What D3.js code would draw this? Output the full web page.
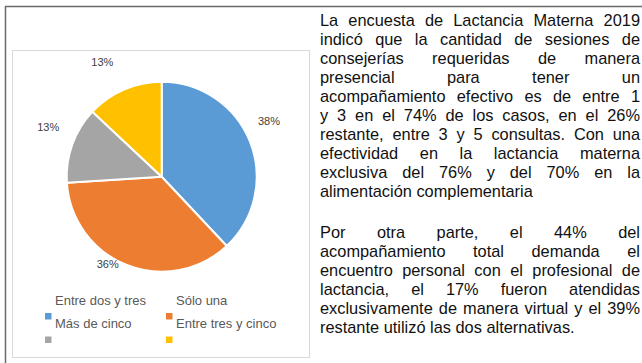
<!DOCTYPE html>
<html>
<head>
<meta charset="utf-8">
<script src="https://cdn.jsdelivr.net/npm/d3@7"></script>
<style>
  html, body { margin: 0; padding: 0; background: #fff; }
  svg { display: block; }
</style>
</head>
<body>
<svg id="chart" width="642" height="363"></svg>
<script>
// Consejerías presenciales requeridas (Encuesta de Lactancia Materna 2019)
const categories = ["Entre dos y tres", "Sólo una", "Más de cinco", "Entre tres y cinco"];
const shares = [38, 36, 13, 13];
const sliceColors = ["#5B9BD5", "#ED7D31", "#A5A5A5", "#FFC000"];

// Texto que acompaña al gráfico, línea por línea
const paragraphOne = [
  "La encuesta de Lactancia Materna 2019",
  "indicó que la cantidad de sesiones de",
  "consejerías requeridas de manera",
  "presencial para tener un",
  "acompañamiento efectivo es de entre 1",
  "y 3 en el 74% de los casos, en el 26%",
  "restante, entre 3 y 5 consultas. Con una",
  "efectividad en la lactancia materna",
  "exclusiva del 76% y del 70% en la",
  "alimentación complementaria"
];
const paragraphTwo = [
  "Por otra parte, el 44% del",
  "acompañamiento total demanda el",
  "encuentro personal con el profesional de",
  "lactancia, el 17% fueron atendidas",
  "exclusivamente de manera virtual y el 39%",
  "restante utilizó las dos alternativas."
];

const FONT = "'Liberation Sans', Arial, sans-serif";
const svg = d3.select("#chart");

// Marcos: recuadro exterior y área del gráfico
svg.append("path")
  .attr("d", "M5.5,363 V6.5 H642")
  .attr("fill", "none")
  .attr("stroke", "#6a6a6a")
  .attr("stroke-width", 1.5);

svg.append("rect")
  .attr("x", 12.5).attr("y", 50.5)
  .attr("width", 297).attr("height", 307)
  .attr("fill", "#fff")
  .attr("stroke", "#d9d9d9")
  .attr("stroke-width", 1);

// Torta
const cx = 161.7, cy = 176.7, radius = 95;
const pie = d3.pie().sort(null).value(d => d);
const arcs = pie(shares);
const arc = d3.arc().innerRadius(0).outerRadius(radius);

const g = svg.append("g").attr("transform", `translate(${cx},${cy})`);
g.selectAll("path.slice")
  .data(arcs)
  .join("path")
  .attr("class", "slice")
  .attr("d", arc)
  .attr("fill", (d, i) => sliceColors[i])
  .attr("stroke", "#fff")
  .attr("stroke-width", 2)
  .attr("stroke-linejoin", "round");

// Etiquetas de porcentaje: giro (grados) y distancia al centro de cada una
const labelPlacement = [
  { turn: -6, dist: 121 },
  { turn: 10, dist: 103 },
  { turn: 4, dist: 124 },
  { turn: -4, dist: 129 }
];
g.selectAll("text.pct")
  .data(arcs)
  .join("text")
  .attr("class", "pct")
  .each(function (d, i) {
    const p = labelPlacement[i];
    const a = (d.startAngle + d.endAngle) / 2 + p.turn * Math.PI / 180;
    d3.select(this)
      .attr("x", p.dist * Math.sin(a))
      .attr("y", -p.dist * Math.cos(a));
  })
  .attr("text-anchor", "middle")
  .attr("dominant-baseline", "central")
  .attr("font-family", FONT)
  .attr("font-size", 11)
  .attr("fill", "#404040")
  .text(d => `${d.data}%`);

// Leyenda (dos columnas)
const legend = svg.append("g").attr("font-family", FONT);
const colX = [45, 166];
categories.forEach((name, i) => {
  const col = i % 2, row = Math.floor(i / 2);
  legend.append("rect")
    .attr("x", colX[col]).attr("y", 313 + row * 23.5)
    .attr("width", 6.5).attr("height", 6.5)
    .attr("fill", sliceColors[i]);
  legend.append("text")
    .attr("x", colX[col] + 10).attr("y", 300 + row * 23.5)
    .attr("dominant-baseline", "central")
    .attr("font-size", 13)
    .attr("fill", "#595959")
    .text(name);
});

// Párrafos justificados a la derecha del gráfico
const textLeft = 320, textRight = 640;
const leading = 19;
const body = svg.append("g")
  .attr("font-family", FONT)
  .attr("fill", "#111");

const probe = body.append("text").attr("font-size", 16).text("alimentación complementaria");
const fontSize = 16 * 213 / probe.node().getComputedTextLength();
probe.remove();
body.attr("font-size", fontSize);

function wordWidth(w) {
  const t = body.append("text").text(w);
  const len = t.node().getComputedTextLength();
  t.remove();
  return len;
}

function drawParagraph(lines, firstBaseline) {
  lines.forEach((line, li) => {
    const y = firstBaseline + li * leading;
    const words = line.split(" ");
    const t = body.append("text").attr("y", y);
    if (li === lines.length - 1 || words.length < 2) {
      t.attr("x", textLeft).text(line);
      return;
    }
    const widths = words.map(wordWidth);
    const gap = (textRight - textLeft - d3.sum(widths)) / (words.length - 1);
    let x = textLeft;
    words.forEach((w, wi) => {
      t.append("tspan").attr("x", x).text(w);
      x += widths[wi] + gap;
    });
  });
}

const firstBaseline = 26, paragraphGap = 22;
drawParagraph(paragraphOne, firstBaseline);
drawParagraph(paragraphTwo,
  firstBaseline + paragraphOne.length * leading + paragraphGap);
</script>
</body>
</html>
